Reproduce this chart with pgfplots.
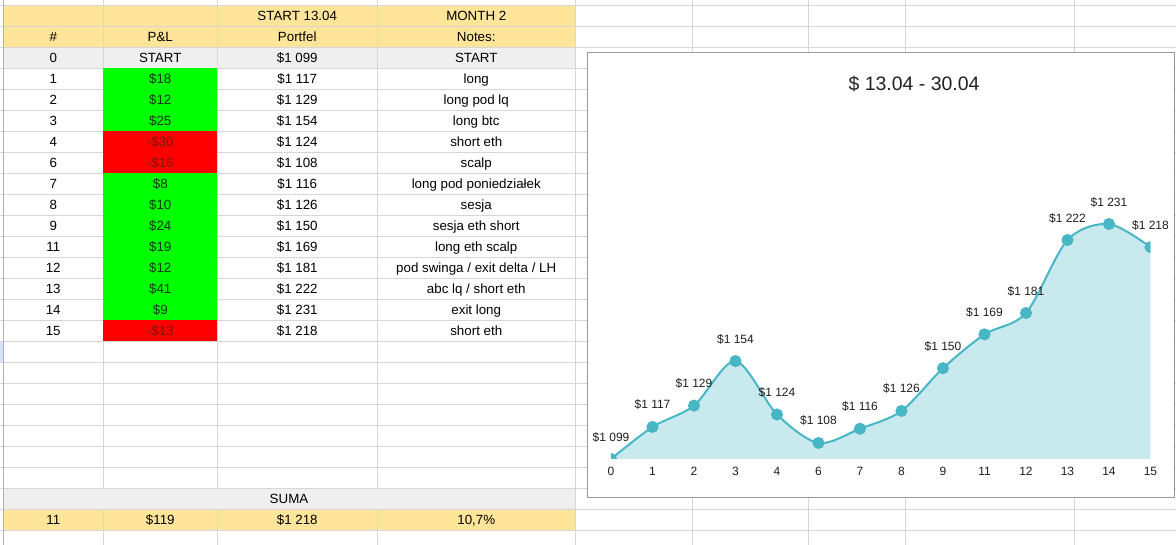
\documentclass[border=0pt]{standalone}
\usepackage{pgfplots}
\pgfplotsset{compat=1.18}
\usepackage{fontspec}
\setmainfont{Liberation Sans}
\definecolor{hdr}{HTML}{FFE599}
\definecolor{lgrey}{HTML}{EFEFEF}
\definecolor{gridc}{HTML}{D6D6D6}
\definecolor{gcell}{HTML}{00FF00}
\definecolor{rcell}{HTML}{FF0000}
\definecolor{gtext}{HTML}{163510}
\definecolor{rtext}{HTML}{7A1508}
\definecolor{tealc}{HTML}{47B6C5}
\definecolor{tealfill}{HTML}{C8E9EE}
\definecolor{selblue}{HTML}{D3E3FD}
\newcommand{\tf}{\fontsize{10}{12}\selectfont}
% k, num, pl, cellcolor, textcolor, portfel, note
\newcommand{\trow}[7]{%
  \pgfmathsetmacro\yc{529-21*#1}%
  \pgfmathsetmacro\yt{539.5-21*#1}%
  \pgfmathsetmacro\yb{518.5-21*#1}%
  \fill[#4] (103.2,\yb) rectangle (217.3,\yt);
  \node[font=\tf,anchor=base] at (53.25,\yc-4.8) {#2};
  \node[font=\tf,anchor=base,text=#5] at (160.25,\yc-4.8) {#3};
  \node[font=\tf,anchor=base] at (297.25,\yc-4.8) {#6};
  \node[font=\tf,anchor=base] at (476.25,\yc-4.8) {#7};
}
\begin{document}
\begin{tikzpicture}
\begin{scope}[x=0.75pt,y=0.75pt]
\path[fill=white,use as bounding box] (0,0) rectangle (1176,545);
% fills
\fill[hdr] (3,497.5) rectangle (575,539.5);
\fill[lgrey] (3,476.5) rectangle (575,497.5);
\fill[lgrey] (3,35.5) rectangle (575,56.5);
\fill[hdr] (3,14.5) rectangle (575,35.5);
\fill[selblue] (0,183) rectangle (3,203.5);
% grid
\foreach \k in {0,...,25} \draw[gridc,line width=0.75pt] (0,539.5-21*\k) -- (1176,539.5-21*\k);
\foreach \xx in {103.5,217,377.5} {
  \draw[gridc,line width=0.75pt] (\xx,0) -- (\xx,35.5);
  \draw[gridc,line width=0.75pt] (\xx,56.5) -- (\xx,545);
}
\foreach \xx in {575,692,808.5,905.5,1074.5} \draw[gridc,line width=0.75pt] (\xx,0) -- (\xx,545);
\draw[black!30,line width=0.75pt] (3,0) -- (3,545);
% header
\node[font=\tf,anchor=base] at (297.25,529-4.8) {START 13.04};
\node[font=\tf,anchor=base] at (476.25,529-4.8) {MONTH 2};
\node[font=\tf,anchor=base] at (53.25,508-4.8) {\#};
\node[font=\tf,anchor=base] at (160.25,508-4.8) {P\&L};
\node[font=\tf,anchor=base] at (297.25,508-4.8) {Portfel};
\node[font=\tf,anchor=base] at (476.25,508-4.8) {Notes:};
\node[font=\tf,anchor=base] at (53.25,487-4.8) {0};
\node[font=\tf,anchor=base] at (160.25,487-4.8) {START};
\node[font=\tf,anchor=base] at (297.25,487-4.8) {\$1 099};
\node[font=\tf,anchor=base] at (476.25,487-4.8) {START};
\trow{3}{1}{\$18}{gcell}{gtext}{\$1 117}{long}
\trow{4}{2}{\$12}{gcell}{gtext}{\$1 129}{long pod lq}
\trow{5}{3}{\$25}{gcell}{gtext}{\$1 154}{long btc}
\trow{6}{4}{-\$30}{rcell}{rtext}{\$1 124}{short eth}
\trow{7}{6}{-\$16}{rcell}{rtext}{\$1 108}{scalp}
\trow{8}{7}{\$8}{gcell}{gtext}{\$1 116}{long pod poniedziałek}
\trow{9}{8}{\$10}{gcell}{gtext}{\$1 126}{sesja}
\trow{10}{9}{\$24}{gcell}{gtext}{\$1 150}{sesja eth short}
\trow{11}{11}{\$19}{gcell}{gtext}{\$1 169}{long eth scalp}
\trow{12}{12}{\$12}{gcell}{gtext}{\$1 181}{pod swinga / exit delta / LH}
\trow{13}{13}{\$41}{gcell}{gtext}{\$1 222}{abc lq / short eth}
\trow{14}{14}{\$9}{gcell}{gtext}{\$1 231}{exit long}
\trow{15}{15}{-\$13}{rcell}{rtext}{\$1 218}{short eth}
% summary
\node[font=\tf,anchor=base] at (289,46-4.8) {SUMA};
\node[font=\tf,anchor=base] at (53.25,25-4.8) {11};
\node[font=\tf,anchor=base] at (160.25,25-4.8) {\$119};
\node[font=\tf,anchor=base] at (297.25,25-4.8) {\$1 218};
\node[font=\tf,anchor=base] at (476.25,25-4.8) {10,7\%};
% chart box
\draw[black!40,fill=white,line width=0.75pt] (587.5,47) rectangle (1174,492);
\node[font=\fontsize{14.6}{16}\selectfont,text=black!87,anchor=base] at (914,454) {\$ 13.04 - 30.04};
\end{scope}
\begin{axis}[at={(458.25pt,64.5pt)},anchor=south west,scale only axis,
  width=404.6pt,height=253.7pt,xmin=0,xmax=13,ymin=1099,ymax=1289,
  axis line style={draw=none},tick style={draw=none},ytick=\empty,
  xtick={0,...,13},xticklabels={0,1,2,3,4,6,7,8,9,11,12,13,14,15},
  xticklabel style={font=\fontsize{9}{10}\selectfont,text=black!88,anchor=center,yshift=-9pt},
  clip=true,clip marker paths=true]
\addplot[fill=tealfill,draw=none,smooth] coordinates {(0,1099)(1,1117)(2,1129)(3,1154)(4,1124)(5,1108)(6,1116)(7,1126)(8,1150)(9,1169)(10,1181)(11,1222)(12,1231)(13,1218)} \closedcycle;
\addplot[tealc,line width=1.5pt,smooth,mark=*,mark size=3.75pt,mark options={fill=tealc,draw=tealc}] coordinates {(0,1099)(1,1117)(2,1129)(3,1154)(4,1124)(5,1108)(6,1116)(7,1126)(8,1150)(9,1169)(10,1181)(11,1222)(12,1231)(13,1218)};
\end{axis}
\begin{axis}[at={(458.25pt,64.5pt)},anchor=south west,scale only axis,
  width=404.6pt,height=253.7pt,xmin=0,xmax=13,ymin=1099,ymax=1289,
  hide axis,clip=false]
\addplot[draw=none,mark=none,nodes near coords,point meta=explicit symbolic,
  every node near coord/.append style={font=\fontsize{9}{10}\selectfont,text=black!88,anchor=center,yshift=16.5pt}]
 coordinates {(0,1099)[\$1 099] (1,1117)[\$1 117] (2,1129)[\$1 129] (3,1154)[\$1 154] (4,1124)[\$1 124] (5,1108)[\$1 108] (6,1116)[\$1 116] (7,1126)[\$1 126] (8,1150)[\$1 150] (9,1169)[\$1 169] (10,1181)[\$1 181] (11,1222)[\$1 222] (12,1231)[\$1 231] (13,1218)[\$1 218]};
\end{axis}
\end{tikzpicture}
\end{document}
